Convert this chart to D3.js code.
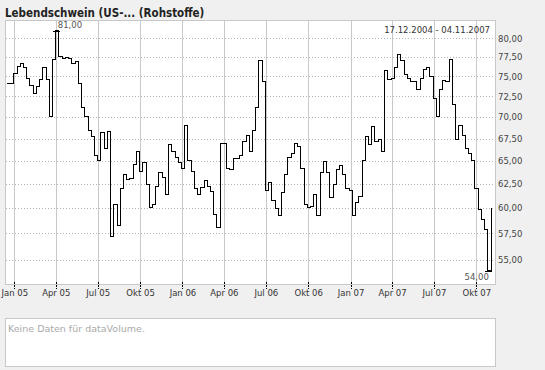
<!DOCTYPE html>
<html>
<head>
<meta charset="utf-8">
<script src="https://cdn.jsdelivr.net/npm/d3@7/dist/d3.min.js"></script>
<style>
  body { margin: 0; background: #f0f0f0; }
  svg { display: block; }
  text { font-family: "DejaVu Sans", Verdana, sans-serif; }
</style>
</head>
<body>
<svg id="chart" width="545" height="370"></svg>
<script>
// weekly closes, first week 17.12.2004
const startDate = "2004-12-17";
const endDate = "2007-11-04";
const prices = [
  74.1, 74.1, 75.4, 76.3, 76.7, 76.1, 74.8, 73.9, 72.9, 73.7,
  74.6, 76.1, 74.6, 70.1, 77.2, 81.0, 77.6, 77.3, 77.5, 77.3,
  76.7, 76.9, 74.1, 71.2, 70.1, 68.4, 67.8, 65.6, 65.0, 68.2,
  66.4, 68.3, 57.2, 60.4, 58.3, 62.0, 63.5, 63.0, 63.1, 64.6,
  66.0, 63.9, 64.8, 62.5, 60.1, 60.4, 62.3, 63.7, 63.2, 61.4,
  66.8, 66.0, 65.4, 64.8, 64.2, 69.0, 65.0, 63.9, 62.0, 61.4,
  62.1, 62.9, 62.3, 61.7, 59.4, 58.1, 67.0, 66.9, 64.2, 64.1,
  65.3, 65.3, 65.6, 67.2, 67.9, 66.1, 68.4, 71.1, 77.0, 74.3,
  61.8, 62.7, 60.8, 60.0, 59.3, 61.6, 63.5, 65.4, 65.8, 67.0,
  66.6, 64.2, 60.4, 60.1, 60.2, 61.4, 59.3, 63.7, 64.9, 63.7,
  61.1, 62.5, 64.1, 64.5, 63.5, 62.0, 61.8, 59.3, 60.6, 61.2,
  65.0, 67.8, 66.8, 68.9, 67.2, 67.4, 66.0, 75.8, 74.6, 74.8,
  76.1, 77.8, 77.1, 75.2, 74.7, 74.3, 74.3, 73.3, 74.7, 75.9,
  76.1, 75.0, 72.3, 70.1, 73.3, 74.5, 74.3, 77.2, 71.5, 67.4,
  69.0, 67.9, 66.4, 65.8, 65.0, 62.0, 59.9, 58.9, 57.9, 54.0,
  60.0
];
const yTicks = [55, 57.5, 60, 62.5, 65, 67.5, 70, 72.5, 75, 77.5, 80];
const xTicks = ["2005-01-01", "2005-04-01", "2005-07-01", "2005-10-01",
  "2006-01-01", "2006-04-01", "2006-07-01", "2006-10-01",
  "2007-01-01", "2007-04-01", "2007-07-01", "2007-10-01"];
const title = "Lebendschwein (US-... (Rohstoffe)";
const rangeLabel = "17.12.2004 - 04.11.2007";
const volumeText = "Keine Daten für dataVolume.";

const de = d3.timeFormatLocale({
  dateTime: "%A, der %e. %B %Y, %X", date: "%d.%m.%Y", time: "%H:%M:%S",
  periods: ["AM", "PM"],
  days: ["Sonntag", "Montag", "Dienstag", "Mittwoch", "Donnerstag", "Freitag", "Samstag"],
  shortDays: ["So", "Mo", "Di", "Mi", "Do", "Fr", "Sa"],
  months: ["Januar", "Februar", "März", "April", "Mai", "Juni", "Juli", "August", "September", "Oktober", "November", "Dezember"],
  shortMonths: ["Jan", "Feb", "Mrz", "Apr", "Mai", "Jun", "Jul", "Aug", "Sep", "Okt", "Nov", "Dez"]
});
const num = d3.formatLocale({ decimal: ",", thousands: ".", grouping: [3], currency: ["", " €"] }).format(".2f");

const parse = d3.utcParse("%Y-%m-%d");
const t0 = parse(startDate);
const data = prices.map((v, i) => ({ date: d3.utcDay.offset(t0, i * 7), value: v }));

const plot = { left: 5, right: 495, top: 20, bottom: 284 };
const svg = d3.select("#chart");

const x = d3.scaleUtc().domain([t0, parse(endDate)]).range([7.4, 492]);
const y = d3.scaleLog().domain([52.78, 82.52]).range([plot.bottom, plot.top]);

svg.append("text").attr("x", 5).attr("y", 17)
  .attr("font-size", "11.5px").attr("font-weight", "bold").attr("fill", "#222")
  .style("font-family", "'DejaVu Sans Condensed', 'DejaVu Sans', sans-serif")
  .text(title);

svg.append("rect").attr("x", plot.left + 0.5).attr("y", plot.top + 0.5)
  .attr("width", plot.right - plot.left).attr("height", plot.bottom - plot.top)
  .attr("fill", "#fff").attr("stroke", "#c8c8c8");

// horizontal dotted grid
svg.append("g").selectAll("line").data(yTicks).enter().append("line")
  .attr("x1", plot.left + 1).attr("x2", plot.right)
  .attr("y1", d => Math.round(y(d)) + 0.5).attr("y2", d => Math.round(y(d)) + 0.5)
  .attr("stroke", "#b4b4b4").attr("stroke-dasharray", "1,2");

// vertical grid
const xt = xTicks.map(parse);
svg.append("g").selectAll("line").data(xt).enter().append("line")
  .attr("x1", d => Math.round(x(d)) + 0.5).attr("x2", d => Math.round(x(d)) + 0.5)
  .attr("y1", plot.top + 1).attr("y2", plot.bottom)
  .attr("stroke", "#c8c8c8");

// small dashed tick marks under the plot
svg.append("g").selectAll("line").data(xt).enter().append("line")
  .attr("x1", d => Math.round(x(d)) + 0.5).attr("x2", d => Math.round(x(d)) + 0.5)
  .attr("y1", plot.bottom - 2).attr("y2", plot.bottom + 5)
  .attr("stroke", "#000").attr("stroke-dasharray", "2,1");

// x axis labels
const xAxis = d3.axisBottom(x).tickValues(xt).tickFormat(de.utcFormat("%b %y")).tickSize(0).tickPadding(6);
svg.append("g").attr("transform", `translate(0,${plot.bottom})`).call(xAxis)
  .call(g => g.select(".domain").remove())
  .call(g => g.selectAll("text").attr("font-size", "8.5px").attr("fill", "#333")
    .style("font-family", "'DejaVu Sans', sans-serif"));

// y axis labels on the right
const yAxis = d3.axisRight(y).tickValues(yTicks).tickFormat(num).tickSize(0).tickPadding(3);
svg.append("g").attr("transform", `translate(${plot.right},0)`).call(yAxis)
  .call(g => g.select(".domain").remove())
  .call(g => g.selectAll("text").attr("font-size", "8.5px").attr("fill", "#444")
    .style("font-family", "'DejaVu Sans', sans-serif"));

// price line
const line = d3.line().x(d => x(d.date)).y(d => y(d.value)).curve(d3.curveStepAfter);
svg.append("path").datum(data).attr("d", line)
  .attr("fill", "none").attr("stroke", "#000").attr("stroke-width", 1)
  .attr("shape-rendering", "crispEdges");

// high / low markers
const hi = data[d3.maxIndex(data, d => d.value)];
const lo = data[d3.minIndex(data, d => d.value)];
[hi, lo].forEach(p => {
  svg.append("line")
    .attr("x1", x(p.date) - 3).attr("x2", x(p.date) + 4)
    .attr("y1", Math.round(y(p.value)) + 0.5).attr("y2", Math.round(y(p.value)) + 0.5)
    .attr("stroke", "#000").attr("shape-rendering", "crispEdges");
});
svg.append("text").attr("x", x(hi.date) + 2).attr("y", y(hi.value) - 3)
  .attr("font-size", "8.5px").attr("fill", "#555").text(num(hi.value));
svg.append("text").attr("x", x(lo.date) + 1).attr("y", y(lo.value) + 9)
  .attr("text-anchor", "end").attr("font-size", "8.5px").attr("fill", "#555").text(num(lo.value));

svg.append("text").attr("x", 490).attr("y", 33).attr("text-anchor", "end")
  .attr("font-size", "8.5px").attr("fill", "#333").text(rangeLabel);

// empty volume panel
svg.append("rect").attr("x", 5.5).attr("y", 318.5).attr("width", 490).attr("height", 48)
  .attr("fill", "#fff").attr("stroke", "#c8c8c8");
svg.append("text").attr("x", 8).attr("y", 332).attr("font-size", "9.5px").attr("fill", "#aaa")
  .text(volumeText);
</script>
</body>
</html>
